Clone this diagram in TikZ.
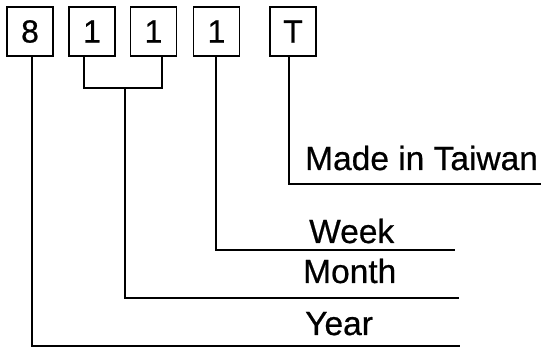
\documentclass[tikz,border=0pt]{standalone}
\usepackage{fontspec}
\setmainfont{Liberation Sans}[FakeBold=0.6]
\begin{document}
\begin{tikzpicture}[x=1pt,y=-1pt,
  digitbox/.style={draw,line width=1.6pt,minimum width=46pt,minimum height=49pt,inner sep=0pt,font=\fontsize{32}{32}\selectfont},
  lbl/.style={anchor=base west,inner sep=0pt,font=\fontsize{33.5}{34}\selectfont},
  conn/.style={line width=1.4pt}]
\useasboundingbox (0,0) rectangle (541,347);
\node[digitbox] (b8) at (30,31.5) {8};
\node[digitbox] (b1a) at (92,31.5) {1};
\node[digitbox] (b1b) at (153.5,31.5) {1};
\node[digitbox] (b1c) at (216.5,31.5) {1};
\node[digitbox] (bT) at (293,31.5) {T};
\node[lbl] (taiwan) at (305,170) {Made in Taiwan};
\node[lbl] (week) at (309,243) {Week};
\node[lbl] (month) at (303,283) {Month};
\node[lbl] (year) at (305,335) {Year};
% corner coordinates
\coordinate (t8) at (32,56);
\coordinate (c8) at (32,346);
\coordinate (e8) at (460,346);
\coordinate (ta) at (84,56);
\coordinate (ca) at (84,88);
\coordinate (tb) at (162,56);
\coordinate (cb) at (162,88);
\coordinate (jm) at (125,88);
\coordinate (cm) at (125,298);
\coordinate (em) at (459,298);
\coordinate (tw) at (216,56);
\coordinate (cw) at (216,250);
\coordinate (ew) at (455,250);
\coordinate (tt) at (289,56);
\coordinate (ct) at (289,184);
\coordinate (et) at (541,184);
\draw[conn] (t8) -- (c8) -- (e8);
\draw[conn] (ta) -- (ca) -- (cb) -- (tb);
\draw[conn] (jm) -- (cm) -- (em);
\draw[conn] (tw) -- (cw) -- (ew);
\draw[conn] (tt) -- (ct) -- (et);
\end{tikzpicture}
\end{document}
